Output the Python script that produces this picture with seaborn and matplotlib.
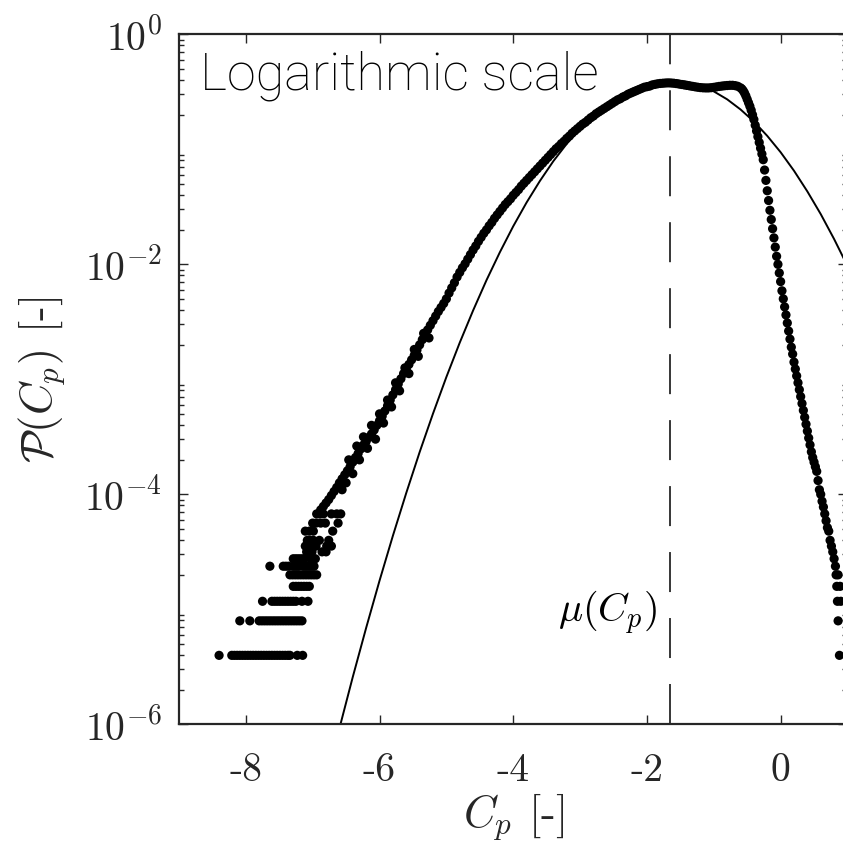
import numpy as np
import pandas as pd
import matplotlib
matplotlib.use("Agg")
import matplotlib.pyplot as plt
import matplotlib.ticker as mticker
import seaborn as sns

# ---- data (x = Cp, y = log10 of the pdf) ----
mu_cp = -1.66

# smooth main body of the empirical pdf
body_x = [-6.88, -6.84, -6.80, -6.76, -6.72, -6.68, -6.64, -6.60, -6.56, -6.52,
          -6.48, -6.44, -6.40, -6.36, -6.32, -6.28, -6.24, -6.20, -6.16, -6.12,
          -6.08, -6.04, -6.00, -5.96, -5.92, -5.88, -5.84, -5.80, -5.76, -5.72,
          -5.68, -5.64, -5.60, -5.56, -5.52, -5.48, -5.44, -5.40, -5.36, -5.32,
          -5.28, -5.24, -5.20, -5.16, -5.12, -5.08, -5.04, -5.00, -4.96, -4.92,
          -4.88, -4.84, -4.80, -4.76, -4.72, -4.68, -4.64, -4.60, -4.56, -4.52,
          -4.48, -4.44, -4.40, -4.36, -4.32, -4.28, -4.24, -4.20, -4.16, -4.12,
          -4.08, -4.04, -4.00, -3.96, -3.92, -3.88, -3.84, -3.80, -3.76, -3.72,
          -3.68, -3.64, -3.60, -3.56, -3.52, -3.48, -3.44, -3.40, -3.36, -3.32,
          -3.28, -3.24, -3.20, -3.16, -3.12, -3.08, -3.04, -3.00, -2.96, -2.92,
          -2.88, -2.84, -2.80, -2.76, -2.72, -2.68, -2.64, -2.60, -2.56, -2.52,
          -2.48, -2.44, -2.40, -2.36, -2.32, -2.28, -2.24, -2.20, -2.16, -2.12,
          -2.08, -2.04, -2.00, -1.96, -1.92, -1.88, -1.84, -1.80, -1.76, -1.72,
          -1.68, -1.64, -1.60, -1.56, -1.52, -1.48, -1.44, -1.40, -1.36, -1.32,
          -1.28, -1.24, -1.20, -1.16, -1.12, -1.08, -1.04, -1.00, -0.96, -0.92,
          -0.88, -0.84, -0.80, -0.76, -0.72, -0.68, -0.64, -0.60]
body_log10 = [-4.135, -4.105, -4.075, -4.045, -4.01, -3.975, -3.94, -3.90, -3.865, -3.83,
              -3.795, -3.76, -3.72, -3.68, -3.645, -3.605, -3.57, -3.54, -3.505, -3.475,
              -3.44, -3.40, -3.36, -3.32, -3.275, -3.23, -3.18, -3.135, -3.09, -3.04,
              -2.995, -2.95, -2.91, -2.87, -2.83, -2.79, -2.745, -2.70, -2.655, -2.61,
              -2.57, -2.53, -2.49, -2.45, -2.41, -2.375, -2.34, -2.30, -2.25, -2.205,
              -2.16, -2.11, -2.07, -2.03, -1.995, -1.955, -1.915, -1.875, -1.84, -1.80,
              -1.765, -1.73, -1.70, -1.665, -1.635, -1.60, -1.57, -1.54, -1.51, -1.48,
              -1.455, -1.43, -1.40, -1.375, -1.35, -1.32, -1.295, -1.27, -1.245, -1.22,
              -1.195, -1.17, -1.145, -1.12, -1.095, -1.07, -1.045, -1.02, -0.995, -0.975,
              -0.95, -0.93, -0.905, -0.885, -0.86, -0.84, -0.82, -0.80, -0.78, -0.765,
              -0.745, -0.725, -0.71, -0.69, -0.675, -0.66, -0.645, -0.63, -0.615, -0.60,
              -0.585, -0.57, -0.56, -0.545, -0.535, -0.52, -0.51, -0.50, -0.49, -0.48,
              -0.47, -0.46, -0.455, -0.45, -0.44, -0.435, -0.43, -0.427, -0.425, -0.423,
              -0.422, -0.423, -0.425, -0.428, -0.432, -0.436, -0.44, -0.444, -0.448, -0.452,
              -0.456, -0.46, -0.463, -0.465, -0.466, -0.466, -0.464, -0.461, -0.457, -0.453,
              -0.45, -0.447, -0.445, -0.443, -0.443, -0.446, -0.452, -0.465]

# steep right-hand tail
right_x = [-0.58, -0.56, -0.54, -0.52, -0.50, -0.48, -0.46, -0.44, -0.42, -0.40,
           -0.38, -0.36, -0.34, -0.32, -0.30, -0.28, -0.26, -0.24, -0.22, -0.20,
           -0.18, -0.16, -0.14, -0.12, -0.10, -0.08, -0.06, -0.04, -0.02, 0.00,
           0.02, 0.04, 0.06, 0.08, 0.10, 0.12, 0.14, 0.16, 0.18, 0.20,
           0.22, 0.24, 0.26, 0.28, 0.30, 0.32, 0.34, 0.36, 0.38, 0.40,
           0.42, 0.44, 0.46, 0.48, 0.50, 0.52, 0.54, 0.56, 0.58, 0.60,
           0.62, 0.64, 0.66, 0.68, 0.70, 0.72, 0.74, 0.76, 0.78, 0.80,
           0.82, 0.83, 0.84, 0.86, 0.85, 0.86, 0.88, 0.89, 0.90]
right_log10 = [-0.475, -0.49, -0.51, -0.535, -0.565, -0.595, -0.625, -0.66, -0.70, -0.74,
               -0.79, -0.84, -0.89, -0.94, -0.99, -1.04, -1.09, -1.18, -1.27, -1.36,
               -1.445, -1.53, -1.61, -1.69, -1.77, -1.85, -1.93, -2.00, -2.075, -2.15,
               -2.23, -2.30, -2.37, -2.44, -2.51, -2.58, -2.65, -2.72, -2.78, -2.85,
               -2.91, -2.97, -3.03, -3.09, -3.15, -3.21, -3.27, -3.33, -3.39, -3.45,
               -3.51, -3.57, -3.63, -3.68, -3.72, -3.76, -3.80, -3.88, -3.96, -4.00,
               -4.06, -4.11, -4.17, -4.23, -4.29, -4.32, -4.40, -4.45, -4.50, -4.56,
               -4.625, -4.70, -4.80, -4.70, -4.93, -5.10, -5.40, -4.80, -4.93]

# sparse left-hand tail: rows of equal-count bins (log10 level -> Cp positions)
left_levels = [-5.40, -5.10, -4.93, -4.80, -4.70, -4.625, -4.56, -4.50,
               -4.45, -4.40, -4.32, -4.25, -4.17]
left_rows = [
    [-8.40, -8.21, -8.17, -8.13, -8.09, -8.05, -8.01, -7.97, -7.93, -7.89, -7.85,
     -7.81, -7.77, -7.73, -7.69, -7.65, -7.61, -7.57, -7.53, -7.49, -7.45, -7.41,
     -7.37, -7.34, -7.23, -7.15],
    [-8.09, -7.94, -7.80, -7.76, -7.72, -7.68, -7.64, -7.60, -7.56, -7.52, -7.48,
     -7.44, -7.40, -7.36, -7.32, -7.28, -7.24, -7.20, -7.16],
    [-7.75, -7.61, -7.57, -7.53, -7.49, -7.45, -7.41, -7.37, -7.33, -7.29, -7.25,
     -7.16, -7.07],
    [-7.29, -7.25, -7.21, -7.17, -7.13, -7.09, -7.05],
    [-7.34, -7.30, -7.26, -7.22, -7.18, -7.14, -7.10, -7.06, -7.02, -6.98, -6.94],
    [-7.64, -7.44, -7.40, -7.36, -7.29, -7.25, -7.21, -7.14, -7.10, -7.06, -7.02, -6.98],
    [-7.29, -7.25, -7.21, -7.17, -7.13, -7.03, -6.96],
    [-7.09, -7.01, -6.86, -6.80],
    [-7.11, -7.07, -7.03, -6.95, -6.79, -6.72],
    [-7.08, -7.04, -6.99, -6.90, -6.76],
    [-7.11, -7.05, -6.99, -6.70],
    [-7.00, -6.95, -6.88, -6.81, -6.62],
    [-6.94, -6.90, -6.84, -6.72, -6.64, -6.58],
]

# scattered points around the noisy part of the left flank
spread_x = [-6.56, -6.50, -6.46, -6.40, -6.34, -6.30, -6.24, -6.18, -6.12, -6.06, -6.00,
            -5.94, -5.88, -5.82, -5.76, -5.70, -5.62, -5.56, -5.48, -5.42, -5.34, -5.26]
spread_log10 = [-3.96, -3.90, -3.70, -3.82, -3.58, -3.70, -3.50, -3.60, -3.40, -3.52, -3.30,
                -3.38, -3.18, -3.24, -3.03, -3.10, -2.90, -2.95, -2.74, -2.80, -2.60, -2.64]

# fitted normal pdf (thin line)
fit_x = [-6.6, -6.4, -6.2, -6.0, -5.8, -5.6, -5.4, -5.2, -5.0, -4.8,
         -4.6, -4.4, -4.2, -4.0, -3.8, -3.6, -3.4, -3.2, -3.0, -2.8,
         -2.6, -2.4, -2.2, -2.0, -1.8, -1.6, -1.4, -1.2, -1.0, -0.8,
         -0.6, -0.4, -0.2, 0.0, 0.2, 0.4, 0.6, 0.8, 1.0]
fit_log10 = [-6.035, -5.588, -5.161, -4.751, -4.360, -3.988, -3.633, -3.298, -2.980, -2.681,
             -2.401, -2.138, -1.895, -1.669, -1.462, -1.274, -1.103, -0.952, -0.818, -0.703,
             -0.607, -0.528, -0.469, -0.427, -0.404, -0.400, -0.413, -0.446, -0.496, -0.565,
             -0.653, -0.758, -0.883, -1.025, -1.186, -1.366, -1.563, -1.780, -2.014]

x_ticks = [-8, -6, -4, -2, 0]
x_tick_labels = ["-8", "-6", "-4", "-2", "0"]
y_ticks = [1e0, 1e-2, 1e-4, 1e-6]
y_tick_labels = [r"$10^{0}$", r"$10^{-2}$", r"$10^{-4}$", r"$10^{-6}$"]

# ---- build tables ----
left_x = [x for row in left_rows for x in row]
left_log10 = [lv for lv, row in zip(left_levels, left_rows) for _ in row]

pts = pd.DataFrame({
    "Cp": body_x + right_x + left_x + spread_x,
    "log10_pdf": body_log10 + right_log10 + left_log10 + spread_log10,
})
pts["pdf"] = 10 ** pts["log10_pdf"]
fit = pd.DataFrame({"Cp": fit_x, "pdf": 10 ** np.array(fit_log10)})

# ---- style ----
sns.set_style("ticks")
INK = "#262626"
plt.rcParams["mathtext.fontset"] = "cm"
plt.rcParams["font.family"] = ["cmr10", "DejaVu Serif"]
plt.rcParams["axes.unicode_minus"] = False
plt.rcParams["lines.scale_dashes"] = False

fig = plt.figure(figsize=(8.43, 8.46), dpi=100)
ax = fig.add_axes([0.2123, 0.1438, 0.793, 0.8156])
ax.set_yscale("log")

sns.scatterplot(data=pts, x="Cp", y="pdf", s=44, color="black", edgecolor="none",
                linewidth=0, ax=ax, legend=False, zorder=3)
sns.lineplot(data=fit, x="Cp", y="pdf", color="black", lw=1.4, ax=ax,
             sort=False, estimator=None, zorder=2)
ax.axvline(mu_cp, color="black", lw=1.1, dashes=(28.8, 18.7), zorder=1)

ax.set_xlim(-9, 1)
ax.set_ylim(1e-6, 1)

ax.xaxis.set_major_locator(mticker.FixedLocator(x_ticks))
ax.xaxis.set_major_formatter(mticker.FixedFormatter(x_tick_labels))
ax.xaxis.set_minor_locator(mticker.NullLocator())
ax.yaxis.set_major_locator(mticker.FixedLocator(y_ticks))
ax.yaxis.set_major_formatter(mticker.FixedFormatter(y_tick_labels))
ax.yaxis.set_minor_locator(mticker.LogLocator(base=10, subs=np.arange(2, 10), numticks=20))
ax.yaxis.set_minor_formatter(mticker.NullFormatter())

ax.tick_params(which="both", direction="in", top=True, right=True, color=INK,
               width=1.0, labelsize=28.5, labelcolor=INK)
ax.tick_params(which="major", length=6.5)
ax.tick_params(which="minor", length=3.5)
ax.tick_params(axis="x", pad=21)
ax.tick_params(axis="y", pad=12)
for sp in ax.spines.values():
    sp.set_color(INK)
    sp.set_linewidth(1.6)

ax.set_xlabel(r"$C_p$ [-]", fontsize=32, color=INK, labelpad=2)
ax.set_ylabel(r"$\mathcal{P}(C_p)$ [-]", fontsize=32, color=INK, labelpad=12)

ax.text(0.031, 0.9207, "Logarithmic scale", transform=ax.transAxes,
        family=["Roboto", "Liberation Sans", "DejaVu Sans"], fontweight="light",
        fontsize=37.5, color="black", ha="left", va="baseline")
ax.annotate(r"$\mu(C_p)$", xy=(mu_cp, 10 ** -5.03), xytext=(-9, 0),
            textcoords="offset points", ha="right", va="center",
            fontsize=29, color="black")

fig.savefig("out.png", dpi=100)
